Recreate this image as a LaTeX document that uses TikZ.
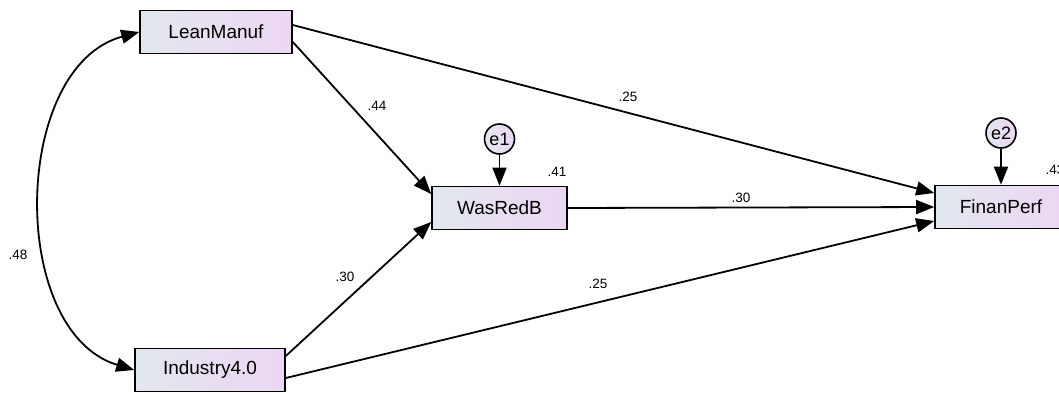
\documentclass[tikz,border=0pt]{standalone}
\usepackage{fontspec}
\setmainfont{Liberation Sans}
\usepackage{tikz}
\usetikzlibrary{arrows.meta}
\usetikzlibrary{calc}
\definecolor{boxL}{RGB}{226,231,238}
\definecolor{boxR}{RGB}{236,214,243}

\begin{document}
\begin{tikzpicture}[x=1pt,y=-1pt,
    var/.style={draw,line width=1.6pt,rectangle,left color=boxL,right color=boxR,
        minimum height=43pt,font=\fontsize{19}{21}\selectfont},
    err/.style={draw,line width=1.6pt,circle,left color=boxL,right color=boxR,
        minimum size=30pt,inner sep=0pt,font=\fontsize{18}{20}\selectfont},
    path/.style={line width=1.8pt,-{Triangle[length=18pt,width=14pt]}},
    lbl/.style={font=\fontsize{13.5}{15}\selectfont}]
            \useasboundingbox (0,0) rectangle (1059,394);
            \node[var,minimum width=152pt] (lean) at (216,32) {LeanManuf};
            \node[var,minimum width=150pt] (ind) at (210,370) {Industry4.0};
            \node[var,minimum width=135pt] (was) at (499.5,208) {WasRedB};
            \node[var,minimum width=132pt] (fin) at (1001,207) {FinanPerf};
            \node[err] (e1) at (499.5,139) {e1};
            \node[err] (e2) at (1001,133) {e2};
            \draw[path] (e1) -- (was.north);
            \draw[path] (e2) -- (fin.north);
            \draw[path] ([yshift=7pt]lean.east) -- ([yshift=14pt]fin.west);
            \draw[path] ([yshift=-10pt]lean.east) -- ([yshift=14pt]was.west);
            \draw[path] ([yshift=14pt]ind.east) -- ([yshift=-14pt]was.west);
            \draw[path] ([yshift=-8pt]ind.east) -- ([yshift=-14pt]fin.west);
            \draw[path] (was.east) -- (fin.west);
            \draw[line width=1.8pt,{Triangle[length=18pt,width=14pt]}-{Triangle[length=18pt,width=14pt]}]
                (lean.west) to[bend right=74] (ind.west);
            % estimates
            \node[lbl] (l1) at (377,106) {.44};
            \node[lbl] (l2) at (628,97) {.25};
            \node[lbl] (l3) at (741,198) {.30};
            \node[lbl] (l4) at (345,277) {.30};
            \node[lbl] (l5) at (598,284) {.25};
            \node[lbl] (l6) at (18,255) {.48};
            \node[lbl] (r1) at (557,172) {.41};
            \node[lbl] (r2) at (1055,170) {.43};
        \end{tikzpicture}
\end{document}
